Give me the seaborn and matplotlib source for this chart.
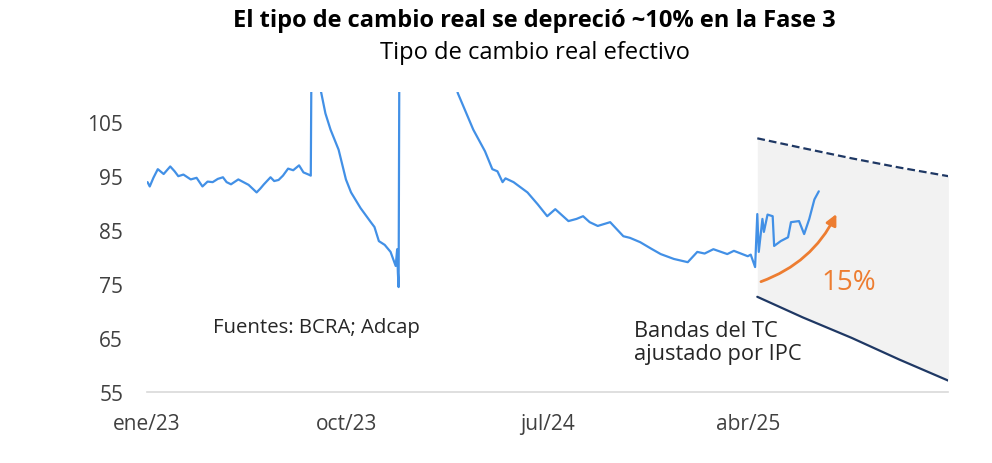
import pandas as pd
import matplotlib.pyplot as plt
import matplotlib.dates as mdates
import seaborn as sns

# Tipo de cambio real efectivo
FECHAS = [
    "2023-01-02", "2023-01-05", "2023-01-10", "2023-01-16", "2023-01-24", "2023-02-02",
    "2023-02-08", "2023-02-13", "2023-02-20", "2023-03-02", "2023-03-10", "2023-03-18",
    "2023-03-25", "2023-04-01", "2023-04-08", "2023-04-15", "2023-04-20", "2023-04-26",
    "2023-05-06", "2023-05-13", "2023-05-20", "2023-05-31", "2023-06-05", "2023-06-10",
    "2023-06-19", "2023-06-24", "2023-06-30", "2023-07-06", "2023-07-13", "2023-07-20",
    "2023-07-28", "2023-08-03", "2023-08-10", "2023-08-13", "2023-08-14", "2023-08-20",
    "2023-08-27", "2023-09-02", "2023-09-09", "2023-09-20", "2023-09-30", "2023-10-07",
    "2023-10-20", "2023-11-03", "2023-11-08", "2023-11-14", "2023-11-22", "2023-11-30",
    "2023-12-07", "2023-12-09", "2023-12-10", "2023-12-11", "2023-12-13", "2024-01-15",
    "2024-02-10", "2024-03-01", "2024-03-22", "2024-04-07", "2024-04-17", "2024-04-24",
    "2024-05-01", "2024-05-05", "2024-05-16", "2024-06-04", "2024-06-18", "2024-07-01",
    "2024-07-12", "2024-07-30", "2024-08-10", "2024-08-19", "2024-08-28", "2024-09-08",
    "2024-09-25", "2024-10-13", "2024-10-22", "2024-11-05", "2024-11-20", "2024-12-03",
    "2024-12-21", "2025-01-09", "2025-01-22", "2025-02-01", "2025-02-13", "2025-03-04",
    "2025-03-13", "2025-04-01", "2025-04-05", "2025-04-11", "2025-04-14", "2025-04-16",
    "2025-04-21", "2025-04-23", "2025-04-28", "2025-05-05", "2025-05-07", "2025-05-16",
    "2025-05-26", "2025-05-30", "2025-06-10", "2025-06-17", "2025-06-24", "2025-07-01",
    "2025-07-07",
]
TCR = [
    93.8, 93.0, 94.6, 96.2, 95.3, 96.7,
    95.8, 94.9, 95.2, 94.3, 94.6, 93.0,
    93.9, 93.8, 94.4, 94.7, 93.8, 93.4,
    94.3, 93.8, 93.3, 91.9, 92.6, 93.4,
    94.7, 94.0, 94.2, 95.0, 96.3, 96.0,
    96.9, 95.6, 95.2, 95.0, 118.0, 115.0,
    110.5, 106.5, 103.5, 99.8, 94.3, 91.9,
    89.0, 86.4, 85.5, 82.9, 82.2, 80.9,
    78.3, 81.4, 77.0, 74.4, 160.0, 140.0,
    120.0, 110.2, 103.5, 99.5, 96.2, 95.8,
    93.8, 94.5, 93.8, 91.9, 89.7, 87.5,
    88.8, 86.6, 87.0, 87.5, 86.4, 85.7,
    86.4, 83.8, 83.5, 82.7, 81.5, 80.5,
    79.6, 79.0, 80.9, 80.6, 81.4, 80.5,
    81.1, 80.1, 80.4, 78.1, 87.9, 80.9,
    87.0, 84.6, 87.8, 87.5, 82.0, 82.9,
    83.6, 86.4, 86.6, 84.2, 87.0, 90.6,
    92.1,
]

# Bandas del TC ajustado por IPC
BANDA_FECHAS = ["2025-04-14", "2025-06-15", "2025-08-21", "2025-10-25", "2025-12-31"]
BANDA_SUP = [101.9, 100.1, 98.2, 96.5, 94.9]
BANDA_INF = [72.6, 68.8, 65.0, 61.0, 57.1]

YTICKS = [55, 65, 75, 85, 95, 105]
XTICK_FECHAS = ["2023-01-01", "2023-10-01", "2024-07-01", "2025-04-01"]
XTICK_LABELS = ["ene/23", "oct/23", "jul/24", "abr/25"]

AZUL = "#4290E6"
NAVY = "#1F3864"
NARANJA = "#ED7D31"
GRIS_TXT = "#404040"


def main():
    sns.set_style("white")
    plt.rcParams["font.family"] = ["Open Sans", "DejaVu Sans"]

    df = pd.DataFrame({"fecha": pd.to_datetime(FECHAS), "tcr": TCR})
    bandas = pd.DataFrame({
        "fecha": pd.to_datetime(BANDA_FECHAS),
        "sup": BANDA_SUP,
        "inf": BANDA_INF,
    })

    fig = plt.figure(figsize=(9.92, 4.64), dpi=100)
    ax = fig.add_axes([0.148, 0.153, 0.808, 0.647])

    ax.fill_between(bandas["fecha"], bandas["inf"], bandas["sup"], color="#F2F2F2", lw=0, zorder=0)
    sns.lineplot(data=bandas, x="fecha", y="sup", ax=ax, color=NAVY, lw=1.6,
                 linestyle=(0, (3.5, 1.8)), estimator=None)
    sns.lineplot(data=bandas, x="fecha", y="inf", ax=ax, color=NAVY, lw=1.6, estimator=None)
    sns.lineplot(data=df, x="fecha", y="tcr", ax=ax, color=AZUL, lw=1.6, estimator=None)

    ax.set_xlim(pd.Timestamp("2023-01-01"), pd.Timestamp("2025-12-31"))
    ax.set_ylim(55, 110.5)
    ax.set_yticks(YTICKS)
    ax.set_xticks(pd.to_datetime(XTICK_FECHAS))
    ax.set_xticklabels(XTICK_LABELS)
    ax.tick_params(axis="both", length=0, labelsize=15, colors=GRIS_TXT)
    ax.tick_params(axis="y", pad=17)
    ax.tick_params(axis="x", pad=15)
    ax.set_xlabel("")
    ax.set_ylabel("")
    for s in ["top", "right", "left"]:
        ax.spines[s].set_visible(False)
    ax.spines["bottom"].set_color("#D9D9D9")
    ax.spines["bottom"].set_linewidth(1.2)

    # Flecha de apreciacion
    x0 = mdates.date2num(pd.Timestamp("2025-04-19"))
    x1 = mdates.date2num(pd.Timestamp("2025-07-31"))
    ax.annotate("", xy=(x1, 87.9), xytext=(x0, 75.4),
                arrowprops=dict(arrowstyle="-|>", color=NARANJA, lw=2,
                                mutation_scale=16, shrinkA=0, shrinkB=0,
                                connectionstyle="arc3,rad=0.2"))
    ax.text(mdates.date2num(pd.Timestamp("2025-08-17")), 75.4, "15%",
            color=NARANJA, fontsize=20, ha="center", va="center")

    ax.text(mdates.date2num(pd.Timestamp("2023-04-02")), 67.1, "Fuentes: BCRA; Adcap",
            color="#262626", fontsize=14.7, ha="left", va="center")
    ax.text(mdates.date2num(pd.Timestamp("2024-10-28")), 64.3, "Bandas del TC\najustado por IPC",
            color="#262626", fontsize=15.7, ha="left", va="center", linespacing=1.15)

    fig.text(0.539, 0.955, "El tipo de cambio real se depreció ~10% en la Fase 3",
             fontsize=17, fontweight="bold", ha="center", va="center", color="#000000")
    fig.text(0.539, 0.886, "Tipo de cambio real efectivo",
             fontsize=17, ha="center", va="center", color="#000000")

    fig.savefig("out.png", dpi=100)
    plt.close(fig)


if __name__ == "__main__":
    main()
